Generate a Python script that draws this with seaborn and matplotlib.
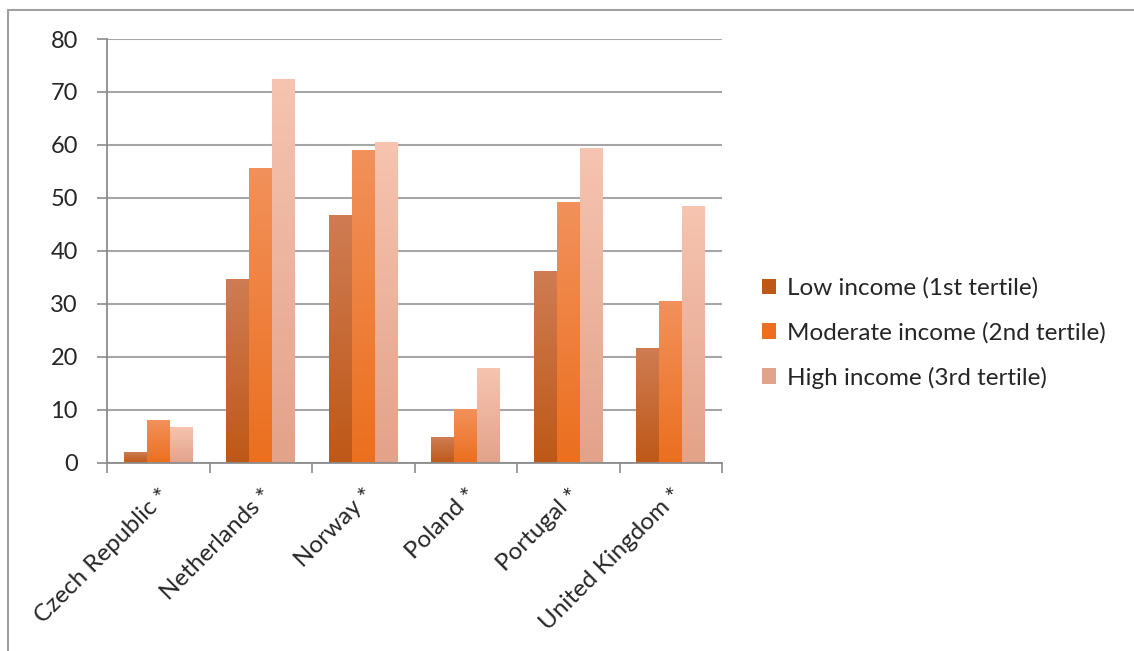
import numpy as np
import pandas as pd
import matplotlib
matplotlib.use("Agg")
import matplotlib.pyplot as plt
import seaborn as sns
from matplotlib.colors import LinearSegmentedColormap
from matplotlib.patches import Rectangle

countries = ["Czech Republic *", "Netherlands *", "Norway *", "Poland *",
             "Portugal *", "United Kingdom *"]
series_names = ["Low income (1st tertile)", "Moderate income (2nd tertile)",
                "High income (3rd tertile)"]
low_income = [2.0, 34.6, 46.7, 4.8, 36.1, 21.6]
moderate_income = [8.0, 55.6, 59.0, 10.1, 49.2, 30.5]
high_income = [6.7, 72.5, 60.5, 17.8, 59.5, 48.4]
y_ticks = [0, 10, 20, 30, 40, 50, 60, 70, 80]

# (top colour, bottom colour) of each series' vertical gradient
shades = [("#CF7C53", "#BE5817"), ("#F2915B", "#EB6F1E"), ("#F6C4B0", "#E3A28A")]

df = pd.DataFrame({
    "country": countries * 3,
    "income": [series_names[0]] * 6 + [series_names[1]] * 6 + [series_names[2]] * 6,
    "value": low_income + moderate_income + high_income,
})

sns.set_theme(style="white")
plt.rcParams["font.family"] = ["Lato", "DejaVu Sans"]

fig = plt.figure(figsize=(11.34, 6.51), dpi=100)
ax = fig.add_axes([107 / 1134, 1 - 462.5 / 651, 615 / 1134, 423.5 / 651])

palette = {n: s[1] for n, s in zip(series_names, shades)}
sns.barplot(data=df, x="country", y="value", hue="income", order=countries,
            hue_order=series_names, palette=palette, width=0.67, gap=0,
            saturation=1, linewidth=0, ax=ax, legend=False)

# paint each bar with a top-to-bottom gradient
grad = np.linspace(0, 1, 256).reshape(-1, 1)
bars = [p for p in ax.patches if isinstance(p, Rectangle) and p.get_height() > 0]
for i, bar in enumerate(bars):
    s = i // len(countries)
    cmap = LinearSegmentedColormap.from_list("g", [shades[s][0], shades[s][1]])
    x0, y0 = bar.get_x(), bar.get_y()
    w, h = bar.get_width(), bar.get_height()
    im = ax.imshow(grad, cmap=cmap, aspect="auto", extent=(x0, x0 + w, y0, y0 + h),
                   origin="upper", zorder=2)
    im.set_clip_path(bar)
    bar.set_alpha(0)

ax.set_xlim(-0.5, len(countries) - 0.5)
ax.set_ylim(0, 80)
ax.set_yticks(y_ticks)
ax.set_yticklabels([str(v) for v in y_ticks], fontsize=17)
ax.yaxis.grid(True, color="#A6A6A6", linewidth=1.5)
ax.set_axisbelow(True)

# major ticks sit on group boundaries, labels centred on groups
ax.set_xticks(np.arange(-0.5, len(countries), 1.0))
ax.set_xticklabels([])
ax.set_xticks(np.arange(len(countries)), minor=True)
ax.set_xticklabels(countries, minor=True, rotation=45, ha="right",
                   rotation_mode="anchor", fontsize=17.5)
ax.tick_params(axis="x", which="minor", length=0, pad=16)
ax.tick_params(axis="x", which="major", length=7, width=1.2, color="#8C8C8C",
               direction="out", bottom=True)
ax.tick_params(axis="y", length=7, width=1.2, color="#8C8C8C", direction="out",
               left=True, pad=14)

for side in ["top", "right"]:
    ax.spines[side].set_visible(False)
for side in ["left", "bottom"]:
    ax.spines[side].set_color("#8C8C8C")
    ax.spines[side].set_linewidth(1.3)
ax.set_xlabel("")
ax.set_ylabel("")

handles = [Rectangle((0, 0), 1, 1, facecolor=s[1], edgecolor="none") for s in shades]
fig.legend(handles, series_names, loc="center left",
           bbox_to_anchor=(740 / 1134, 1 - 333 / 651), frameon=False,
           fontsize=17.5, handlelength=0.6, handleheight=0.6, handletextpad=0.45,
           labelspacing=0.95)

# outer chart frame
fig.patches.append(Rectangle((8 / 1134, -0.1), 1.2, 0.1 + (651 - 10) / 651,
                             transform=fig.transFigure, fill=False,
                             edgecolor="#A0A0A0", linewidth=1.5))

fig.savefig("out.png", dpi=100)
